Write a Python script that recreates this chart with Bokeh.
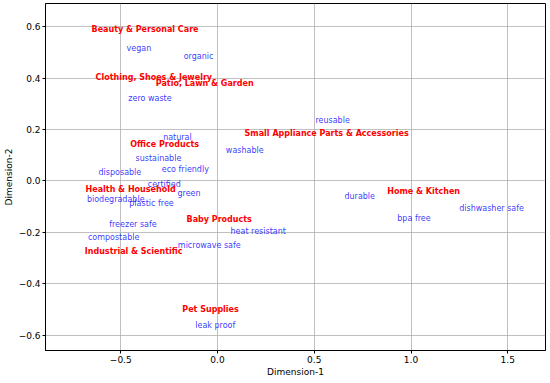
from bokeh.plotting import figure
from bokeh.models import ColumnDataSource, FixedTicker, Range1d
from bokeh.embed import file_html
from bokeh.resources import INLINE
from bokeh.core.properties import value

# Categories (red, bold)
cat_labels = ["Beauty & Personal Care", "Clothing, Shoes & Jewelry", "Patio, Lawn & Garden",
              "Office Products", "Small Appliance Parts & Accessories", "Health & Household",
              "Home & Kitchen", "Baby Products", "Industrial & Scientific", "Pet Supplies"]
cat_x = [-0.651, -0.630, -0.319, -0.451, 0.140, -0.682, 0.877, -0.160, -0.686, -0.182]
cat_y = [0.587, 0.403, 0.379, 0.142, 0.183, -0.035, -0.041, -0.152, -0.276, -0.500]

# Terms (blue)
term_labels = ["vegan", "organic", "zero waste", "natural", "washable", "sustainable",
               "eco friendly", "disposable", "certified", "green", "biodegradable",
               "plastic free", "freezer safe", "heat resistant", "compostable",
               "microwave safe", "leak proof", "reusable", "durable", "dishwasher safe",
               "bpa free"]
term_x = [-0.470, -0.175, -0.461, -0.281, 0.043, -0.424, -0.288, -0.615, -0.360, -0.207,
          -0.675, -0.456, -0.560, 0.067, -0.670, -0.205, -0.115, 0.506, 0.656, 1.249, 0.929]
term_y = [0.515, 0.484, 0.320, 0.167, 0.120, 0.088, 0.045, 0.034, -0.013, -0.049,
          -0.071, -0.090, -0.168, -0.198, -0.220, -0.252, -0.561, 0.233, -0.059, -0.107,
          -0.145]

x_ticks = [-0.5, 0.0, 0.5, 1.0, 1.5]
x_tick_labels = ["\u22120.5", "0.0", "0.5", "1.0", "1.5"]
y_ticks = [-0.6, -0.4, -0.2, 0.0, 0.2, 0.4, 0.6]
y_tick_labels = ["\u22120.6", "\u22120.4", "\u22120.2", "0.0", "0.2", "0.4", "0.6"]

FONT = "DejaVu Sans"

p = figure(frame_width=500, frame_height=347, output_backend="svg", toolbar_location=None,
           x_range=Range1d(-0.889, 1.695), y_range=Range1d(-0.66, 0.69),
           min_border_left=34, min_border_right=1, min_border_top=3, min_border_bottom=26)

p.outline_line_color = "black"
p.outline_line_width = 1
p.background_fill_color = "white"
p.border_fill_color = "white"

for ax in (p.xaxis[0], p.yaxis[0]):
    ax.major_label_text_font = FONT
    ax.major_label_text_font_size = "9px"
    ax.axis_label_text_font = FONT
    ax.axis_label_text_font_size = "9px"
    ax.axis_label_text_font_style = "normal"
    ax.minor_tick_line_color = None
    ax.major_tick_out = 3
    ax.major_tick_in = 0
    ax.axis_line_color = "black"
    ax.major_label_text_color = "black"
    ax.axis_label_text_color = "black"
    ax.major_label_standoff = 2

p.xaxis[0].ticker = FixedTicker(ticks=x_ticks)
p.yaxis[0].ticker = FixedTicker(ticks=y_ticks)
p.xaxis[0].major_label_overrides = dict(zip(x_ticks, x_tick_labels))
p.yaxis[0].major_label_overrides = dict(zip(y_ticks, y_tick_labels))
p.xaxis[0].axis_label = "Dimension-1"
p.yaxis[0].axis_label = "Dimension-2"
p.xaxis[0].axis_label_standoff = 1
p.yaxis[0].axis_label_standoff = 2

p.grid.grid_line_color = "#b0b0b0"
p.grid.grid_line_width = 0.8
p.xgrid[0].ticker = FixedTicker(ticks=x_ticks)
p.ygrid[0].ticker = FixedTicker(ticks=y_ticks)

csrc = ColumnDataSource(dict(x=cat_x, y=cat_y, t=cat_labels))
tsrc = ColumnDataSource(dict(x=term_x, y=term_y, t=term_labels))

p.text(x="x", y="y", text="t", source=tsrc, text_color="blue", text_alpha=0.8,
       text_font=value(FONT), text_font_size="8px",
       text_align="left", text_baseline="alphabetic")
p.text(x="x", y="y", text="t", source=csrc, text_color="red",
       text_font=value(FONT), text_font_size="8px", text_font_style="bold",
       text_align="left", text_baseline="alphabetic")

open("out.html", "w").write(file_html(p, INLINE))
